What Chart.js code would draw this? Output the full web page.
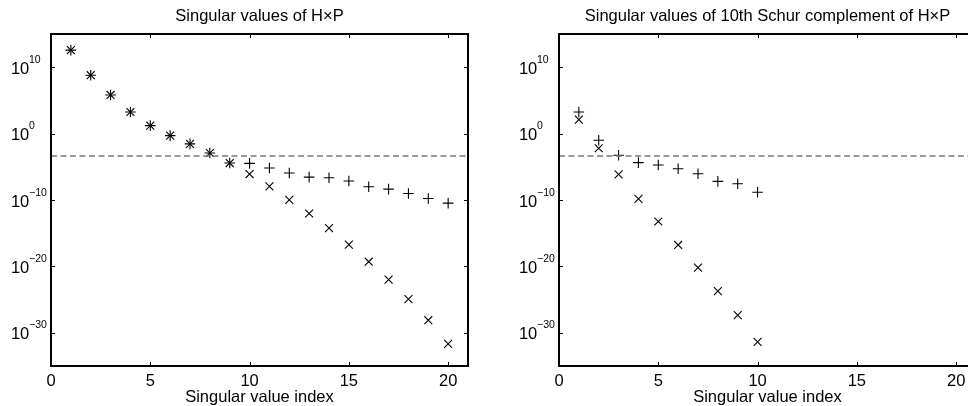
<!DOCTYPE html>
<html>
<head>
<meta charset="utf-8">
<script src="https://cdn.jsdelivr.net/npm/chart.js@4.4.0/dist/chart.umd.min.js"></script>
<style>
    html, body { margin: 0; padding: 0; background: #fff; overflow: hidden; width: 968px; height: 406px; }
    canvas { position: absolute; top: 0; }
    #left { left: 0; }
    #right { left: 508px; }
</style>
</head>
<body>
<canvas id="left" width="484" height="406"></canvas>
<canvas id="right" width="484" height="406"></canvas>
<script>
const FONT = '"Liberation Sans", Arial, Helvetica, sans-serif'

// axis ticks
const xTicks = [0, 5, 10, 15, 20]
const yTickExps = [10, 0, -10, -20, -30]
const threshold = 4.3e-4

// singular values of HxP
const fullIndex = [1, 2, 3, 4, 5, 6, 7, 8, 9, 10, 11, 12, 13, 14, 15, 16, 17, 18, 19, 20]
const fullPlus = [3.7e12, 6.2e8, 6.6e5, 1.8e3, 16, 0.5, 2.8e-2, 1.2e-3, 3.7e-5,
    3.3e-5, 6.5e-6, 1.15e-6, 2.8e-7, 2.2e-7, 7.1e-8, 9.8e-9, 4.4e-9, 9.5e-10, 1.7e-10, 3.4e-11]
const fullCross = [3.7e12, 6.2e8, 6.6e5, 1.8e3, 16, 0.5, 2.8e-2, 1.2e-3, 3.7e-5,
    8.1e-7, 1.1e-8, 1.07e-10, 9.3e-13, 5.8e-15, 1.9e-17, 5.1e-20, 1.0e-22, 1.2e-25, 7.9e-29, 2.1e-32]

// singular values of the 10th Schur complement
const schurIndex = [1, 2, 3, 4, 5, 6, 7, 8, 9, 10]
const schurPlus = [1.8e3, 9.8e-2, 5.4e-4, 4.2e-5, 1.9e-5, 5.1e-6, 9.1e-7, 6.3e-8, 2.8e-8, 1.5e-9]
const schurCross = [1.3e2, 6.2e-3, 7.2e-7, 1.5e-10, 5.8e-14, 1.7e-17, 6.5e-21, 1.9e-24, 4.6e-28, 4.2e-32]

function toPoints(xs, ys) {
    return xs.map((x, i) => ({ x: x, y: ys[i] }))
}

function supText(e) {
    if (e === 0) return '0'
    return e < 0 ? '\u2212' + (-e) : String(e)
}

// MATLAB style box, inward ticks and 10^n labels
const framePlugin = {
    id: 'frame',
    afterDraw(chart, args, opts) {
        const ctx = chart.ctx
        const a = chart.chartArea
        const xs = chart.scales.x
        const ys = chart.scales.y
        ctx.save()
        ctx.strokeStyle = '#000'
        ctx.lineWidth = 2
        ctx.strokeRect(a.left, a.top, a.right - a.left, a.bottom - a.top)

        ctx.lineWidth = 1
        ctx.beginPath()
        xTicks.forEach(t => {
            const px = Math.round(xs.getPixelForValue(t)) + 0.5
            ctx.moveTo(px, a.bottom); ctx.lineTo(px, a.bottom - 4)
            ctx.moveTo(px, a.top); ctx.lineTo(px, a.top + 4)
        })
        yTickExps.forEach(e => {
            const py = Math.round(ys.getPixelForValue(Math.pow(10, e))) + 0.5
            ctx.moveTo(a.left, py); ctx.lineTo(a.left + 4, py)
            ctx.moveTo(a.right, py); ctx.lineTo(a.right - 4, py)
        })
        ctx.stroke()

        ctx.fillStyle = '#000'
        ctx.textBaseline = 'alphabetic'
        ctx.font = '16.5px ' + FONT
        ctx.textAlign = 'center'
        xTicks.forEach(t => {
            ctx.fillText(String(t), xs.getPixelForValue(t), a.bottom + 20.3)
        })
        const cx = (a.left + a.right) / 2
        ctx.fillText(opts.title, cx, 20.5)
        ctx.fillText('Singular value index', cx, 401.5)

        yTickExps.forEach(e => {
            const py = ys.getPixelForValue(Math.pow(10, e))
            ctx.font = '16.5px ' + FONT
            ctx.textAlign = 'right'
            ctx.fillText('10', a.left - 21.7, py + 6.5)
            ctx.font = '10.5px ' + FONT
            ctx.textAlign = 'left'
            ctx.fillText(supText(e), a.left - 22, py - 4.5)
        })
        ctx.restore()
    }
}

function makeChart(id, title, idx, plus, cross) {
    const ctx = document.getElementById(id)
    return new Chart(ctx, {
        type: 'scatter',
        data: {
            datasets: [
                {
                    type: 'line',
                    data: [{ x: 0, y: threshold }, { x: 21, y: threshold }],
                    borderColor: '#787878',
                    borderWidth: 1.6,
                    borderDash: [6, 3.5],
                    pointRadius: 0
                },
                {
                    data: toPoints(idx, plus),
                    pointStyle: 'cross',
                    pointRadius: 5.3,
                    borderColor: '#000',
                    backgroundColor: '#000',
                    pointBorderWidth: 1.1
                },
                {
                    data: toPoints(idx, cross),
                    pointStyle: 'crossRot',
                    pointRadius: 5.6,
                    borderColor: '#000',
                    backgroundColor: '#000',
                    pointBorderWidth: 1.1
                }
            ]
        },
        options: {
            responsive: false,
            animation: false,
            events: [],
            layout: { padding: { left: 51, right: 16, top: 34, bottom: 40 } },
            plugins: {
                legend: { display: false },
                tooltip: { enabled: false },
                frame: { title: title }
            },
            scales: {
                x: { type: 'linear', min: 0, max: 21, display: false },
                y: { type: 'logarithmic', min: 1e-35, max: 1e15, bounds: 'data', display: false }
            }
        },
        plugins: [framePlugin]
    })
}

makeChart('left', 'Singular values of H\u00d7P', fullIndex, fullPlus, fullCross)
makeChart('right', 'Singular values of 10th Schur complement of H\u00d7P', schurIndex, schurPlus, schurCross)
</script>
</body>
</html>
